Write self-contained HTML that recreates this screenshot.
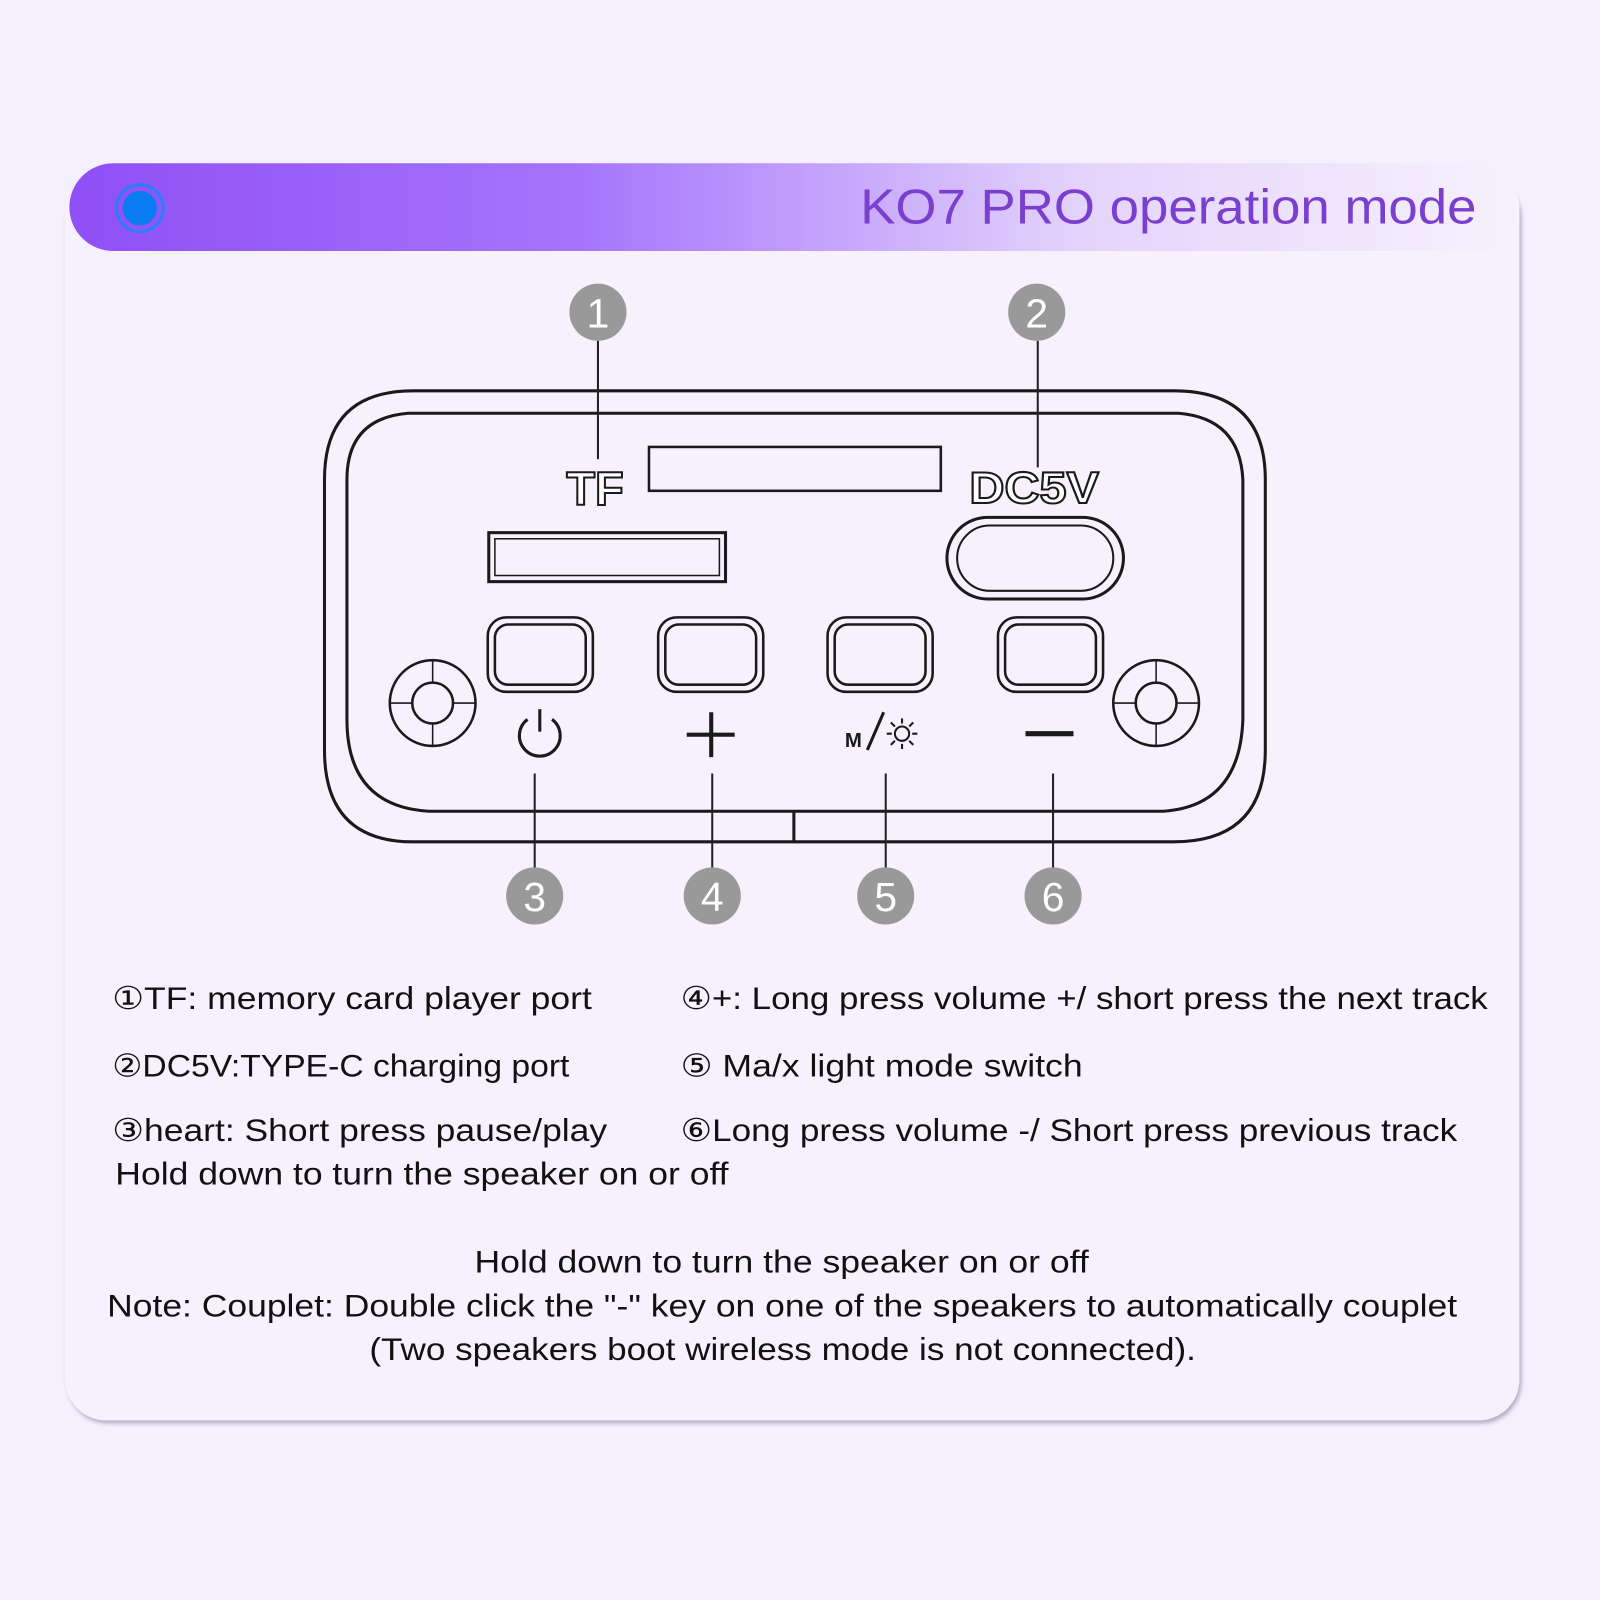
<!DOCTYPE html>
<html><head><meta charset="utf-8"><style>
html,body{margin:0;padding:0;background:#f5f0fd;}
svg{display:block}
text{font-family:"Liberation Sans","DejaVu Sans",sans-serif;}
</style></head><body>
<svg width="1600" height="1600" viewBox="0 0 1568 1568" xmlns="http://www.w3.org/2000/svg">
<defs>
<linearGradient id="hg" x1="0" x2="1" y1="0" y2="0">
<stop offset="0" stop-color="#8f4ff5"/><stop offset="0.35" stop-color="#a574fb"/><stop offset="0.7" stop-color="#e4d4fb"/><stop offset="1" stop-color="#f6f1fd"/>
</linearGradient>
<filter id="sh" x="-5%" y="-5%" width="110%" height="110%"><feDropShadow dx="2" dy="3" stdDev="3" flood-color="#8a80a0" flood-opacity="0.6"/></filter>
</defs>
<rect width="1568" height="1568" fill="#f5f0fd"/>
<rect x="64" y="170" width="1425" height="1222" rx="40" fill="#f6f1fd" filter="url(#sh)"/>
<rect x="68" y="160" width="1421" height="86" rx="43" fill="url(#hg)"/>
<circle cx="137" cy="204" r="23" fill="none" stroke="#2b7dfa" stroke-width="3"/>
<circle cx="137" cy="204" r="17" fill="#0a7cf2"/>
<text x="843" y="219" font-size="48" fill="#7a3fcf" textLength="604" lengthAdjust="spacingAndGlyphs">KO7 PRO operation mode</text>

<g fill="none" stroke="#1a1a1a" stroke-width="3">
<path d="M318 470 Q318 383 405 383 L1150 383 Q1240 383 1240 470 L1240 735 Q1240 825 1150 825 L405 825 Q318 825 318 735 Z"/>
<path d="M340 470 Q340 410 400 405 L1155 405 Q1215 410 1218 470 L1218 705 Q1215 790 1140 795 L420 795 Q340 790 340 705 Z"/>
<line x1="778" y1="795" x2="778" y2="825"/>
<rect x="636" y="438" width="286" height="43" stroke-width="2.5"/>
<rect x="479" y="522" width="232" height="48"/>
<rect x="485" y="528" width="220" height="36" stroke-width="1.5"/>
<rect x="928" y="507" width="173" height="80" rx="40"/>
<rect x="938" y="515" width="153" height="64" rx="32" stroke-width="2"/>
<g stroke-width="2.5">
<rect x="478" y="605" width="103" height="73" rx="18"/><rect x="485" y="612" width="89" height="59" rx="13"/>
<rect x="645" y="605" width="103" height="73" rx="18"/><rect x="652" y="612" width="89" height="59" rx="13"/>
<rect x="811" y="605" width="103" height="73" rx="18"/><rect x="818" y="612" width="89" height="59" rx="13"/>
<rect x="978" y="605" width="103" height="73" rx="18"/><rect x="985" y="612" width="89" height="59" rx="13"/>
</g>
<circle cx="424" cy="689" r="42" stroke-width="2.5"/><circle cx="424" cy="689" r="20" stroke-width="2.5"/>
<circle cx="1133" cy="689" r="42" stroke-width="2.5"/><circle cx="1133" cy="689" r="20" stroke-width="2.5"/>
<path d="M424 647 V669 M424 709 V731 M382 689 H404 M444 689 H466 M1133 647 V669 M1133 709 V731 M1091 689 H1113 M1153 689 H1175" stroke-width="1.5"/>
<path d="M517 705 A20 20 0 1 0 541 705" stroke-width="3"/><line x1="529" y1="695" x2="529" y2="717"/>
<path d="M697 698 V742 M673 720 H720" stroke-width="4"/>
<line x1="1005" y1="719" x2="1052" y2="719" stroke-width="5"/>
<circle cx="884" cy="719" r="7" stroke-width="2"/>
<path d="M884 704 V709 M884 729 V734 M869 719 H874 M894 719 H899 M873 708 L877 712 M891 726 L895 730 M873 730 L877 726 M891 712 L895 708" stroke-width="2"/>
<line x1="850" y1="735" x2="866" y2="698" stroke-width="3"/>
</g>
<text x="828" y="732" font-size="20" font-weight="bold" fill="#1a1a1a">M</text>
<text x="555" y="495" font-size="46" font-weight="bold" fill="#fff" stroke="#1a1a1a" stroke-width="2">TF</text>
<text x="950" y="493" font-size="44" font-weight="bold" fill="#fff" stroke="#1a1a1a" stroke-width="2" textLength="127" lengthAdjust="spacingAndGlyphs">DC5V</text>

<g stroke="#222" stroke-width="2">
<line x1="586" y1="334" x2="586" y2="450"/>
<line x1="1017" y1="334" x2="1017" y2="458"/>
<line x1="524" y1="758" x2="524" y2="860"/>
<line x1="698" y1="758" x2="698" y2="860"/>
<line x1="868" y1="758" x2="868" y2="860"/>
<line x1="1032" y1="758" x2="1032" y2="860"/>
</g>
<g fill="#999">
<circle cx="586" cy="306" r="28"/><circle cx="1016" cy="306" r="28"/>
<circle cx="524" cy="878" r="28"/><circle cx="698" cy="878" r="28"/><circle cx="868" cy="878" r="28"/><circle cx="1032" cy="878" r="28"/>
</g>
<g fill="#fff" font-size="40" text-anchor="middle">
<text x="586" y="321">1</text><text x="1016" y="321">2</text>
<text x="524" y="893">3</text><text x="698" y="893">4</text><text x="868" y="893">5</text><text x="1032" y="893">6</text>
</g>
<g font-size="31" fill="#111" lengthAdjust="spacingAndGlyphs">
<text x="110" y="989" textLength="470" lengthAdjust="spacingAndGlyphs">①TF: memory card player port</text>
<text x="110" y="1055" textLength="448" lengthAdjust="spacingAndGlyphs">②DC5V:TYPE-C charging port</text>
<text x="110" y="1118" textLength="485" lengthAdjust="spacingAndGlyphs">③heart: Short press pause/play</text>
<text x="113" y="1161" textLength="601" lengthAdjust="spacingAndGlyphs">Hold down to turn the speaker on or off</text>
<text x="667" y="989" textLength="791" lengthAdjust="spacingAndGlyphs">④+: Long press volume +/ short press the next track</text>
<text x="667" y="1055" textLength="394" lengthAdjust="spacingAndGlyphs">⑤ Ma/x light mode switch</text>
<text x="667" y="1118" textLength="761" lengthAdjust="spacingAndGlyphs">⑥Long press volume -/ Short press previous track</text>
<text x="465" y="1247" textLength="602" lengthAdjust="spacingAndGlyphs">Hold down to turn the speaker on or off</text>
<text x="105" y="1290" textLength="1323" lengthAdjust="spacingAndGlyphs">Note: Couplet: Double click the "-" key on one of the speakers to automatically couplet</text>
<text x="362" y="1333" textLength="810" lengthAdjust="spacingAndGlyphs">(Two speakers boot wireless mode is not connected).</text>
</g>
</svg>
</body></html>
